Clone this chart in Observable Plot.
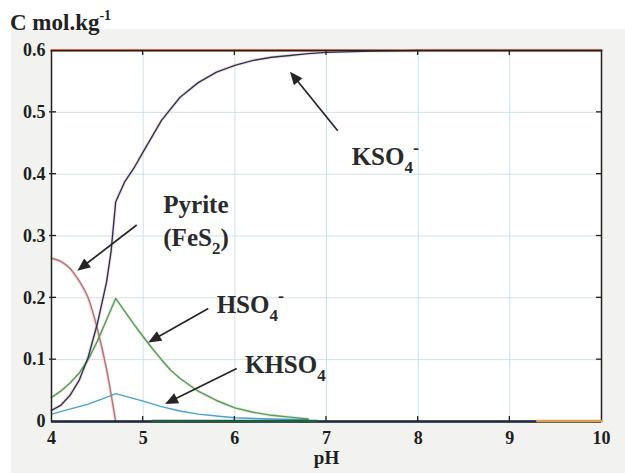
<!DOCTYPE html>
<html><head><meta charset="utf-8">
<script src="https://cdn.jsdelivr.net/npm/d3@7"></script>
<script src="https://cdn.jsdelivr.net/npm/@observablehq/plot@0.6"></script>
<style>
body{margin:0;background:#fff;font-family:"Liberation Serif","Times New Roman",serif;}
#wrap{position:relative;width:625px;height:473px;overflow:hidden;}
#title{position:absolute;left:10px;top:11px;z-index:2;font-weight:bold;font-size:23px;line-height:23px;color:#222;white-space:nowrap;}
#title span{font-size:14px;position:relative;top:-10px;}
#chart{position:absolute;left:0;top:29px;width:625px;height:444px;z-index:1;background:linear-gradient(to right,#fff 11px,#f2f2f0 11px);}
</style></head><body>
<div id="wrap"><div id="title">C mol.kg<span>-1</span></div><div id="chart"></div></div>
<script>
// ---- data ----
const xTicks = [4, 5, 6, 7, 8, 9, 10];
const yTicks = [0, 0.1, 0.2, 0.3, 0.4, 0.5, 0.6];

const pHPyrite = [4.0, 4.1, 4.2, 4.3, 4.4, 4.5, 4.6, 4.7];
const cPyrite  = [0.264, 0.259, 0.248, 0.228, 0.2, 0.15, 0.085, 0.0];

const pHKSO4 = [4.0, 4.1, 4.2, 4.3, 4.4, 4.5, 4.6, 4.65, 4.7, 4.8, 4.9, 5.0, 5.2, 5.4, 5.6, 5.8, 6.0, 6.2, 6.4, 6.6, 6.8, 7.0, 7.5, 8.0, 9.0, 10.0];
const cKSO4  = [0.018, 0.026, 0.042, 0.066, 0.104, 0.158, 0.225, 0.275, 0.355, 0.388, 0.41, 0.436, 0.487, 0.524, 0.548, 0.565, 0.576, 0.584, 0.589, 0.592, 0.595, 0.597, 0.599, 0.6, 0.6, 0.6];

const pHHSO4 = [4.0, 4.1, 4.2, 4.3, 4.4, 4.5, 4.6, 4.7, 4.8, 4.9, 5.0, 5.1, 5.2, 5.3, 5.4, 5.6, 5.8, 6.0, 6.2, 6.4, 6.6, 6.8];
const cHSO4  = [0.039, 0.049, 0.062, 0.078, 0.1, 0.13, 0.164, 0.199, 0.178, 0.157, 0.137, 0.118, 0.1, 0.083, 0.07, 0.049, 0.034, 0.022, 0.015, 0.01, 0.007, 0.004];

const pHKHSO4 = [4.0, 4.2, 4.4, 4.6, 4.7, 4.8, 5.0, 5.2, 5.4, 5.6, 5.8, 6.0, 6.4, 6.8];
const cKHSO4  = [0.012, 0.02, 0.028, 0.039, 0.045, 0.041, 0.033, 0.024, 0.017, 0.012, 0.009, 0.006, 0.004, 0.003];

const pHGreenZero = [5.1, 6.9];
const cGreenZero  = [0.001, 0.001];
const pHOrangeZero = [9.3, 10.0];
const cOrangeZero  = [0.001, 0.001];
const pHTotal = [4.0, 10.0];
const cTotal  = [0.6, 0.6];

// annotations: arrows (tail -> head) and labels, in data units
const arrowX1 = [7.128, 4.935, 5.716, 6.026];
const arrowY1 = [0.4695, 0.317, 0.182, 0.085];
const arrowX2 = [6.607, 4.287, 5.061, 5.244];
const arrowY2 = [0.565, 0.243, 0.127, 0.0275];

const labelMain = ["KSO", "Pyrite", "(FeS", "HSO", "KHSO"];
const labelSub  = ["4", "", "2", "4", "4"];
const labelTail = ["-", "", ")", "-", ""];
const labelX = [7.28, 5.225, 5.225, 5.807, 6.116];
const labelY = [0.414, 0.336, 0.283, 0.174, 0.077];

// ---- build tables ----
const toRows = (xs, ys) => xs.map((x, i) => ({pH: x, C: ys[i]}));
const rowsPyrite = toRows(pHPyrite, cPyrite);
const rowsKSO4 = toRows(pHKSO4, cKSO4);
const rowsHSO4 = toRows(pHHSO4, cHSO4);
const rowsKHSO4 = toRows(pHKHSO4, cKHSO4);
const rowsGreen = toRows(pHGreenZero, cGreenZero);
const rowsOrange = toRows(pHOrangeZero, cOrangeZero);
const rowsTotal = toRows(pHTotal, cTotal);

const W = 625, H = 444, mT = 21, mB = 52, mL = 51, mR = 24;
const innerX = xTicks.slice(1, -1), innerY = yTicks.slice(1, -1);

const plot = Plot.plot({
  width: W, height: H,
  marginTop: mT, marginBottom: mB, marginLeft: mL, marginRight: mR,
  style: {background: "transparent", fontFamily: "'Liberation Serif','Times New Roman',serif", fontSize: "18px", fontWeight: "bold", color: "#1e1e1e", overflow: "visible"},
  x: {domain: [4, 10]},
  y: {domain: [0, 0.6]},
  marks: [
    Plot.frame({fill: "white", stroke: null}),
    Plot.gridX(innerX, {stroke: "#cfe1ea", strokeOpacity: 1, strokeWidth: 1}),
    Plot.gridY(innerY, {stroke: "#cfe1ea", strokeOpacity: 1, strokeWidth: 1}),
    Plot.line(rowsTotal, {x: "pH", y: "C", stroke: "#f08a6a", strokeWidth: 3}),
    // halos
    Plot.line(rowsKSO4, {x: "pH", y: "C", stroke: "#f5c2b2", strokeWidth: 3.4, strokeOpacity: 0.5}),
    Plot.line(rowsHSO4, {x: "pH", y: "C", stroke: "#dfe6a8", strokeWidth: 3.2, strokeOpacity: 0.6}),
    Plot.line(rowsPyrite, {x: "pH", y: "C", stroke: "#f2c8c8", strokeWidth: 3.2, strokeOpacity: 0.6}),
    // curves
    Plot.line(rowsPyrite, {x: "pH", y: "C", stroke: "#b86f7c", strokeWidth: 1.4, curve: "monotone-x"}),
    Plot.line(rowsKHSO4, {x: "pH", y: "C", stroke: "#46a2cf", strokeWidth: 1.4}),
    Plot.line(rowsHSO4, {x: "pH", y: "C", stroke: "#4f9a6e", strokeWidth: 1.4}),
    Plot.line(rowsKSO4, {x: "pH", y: "C", stroke: "#24365e", strokeWidth: 1.4}),
    Plot.frame({stroke: "#222", strokeWidth: 1.5}),
    Plot.ruleY([0], {stroke: "#1f2a3a", strokeWidth: 2.5}),
    Plot.line(rowsGreen, {x: "pH", y: "C", stroke: "#1d5e3c", strokeWidth: 2.5}),
    Plot.line(rowsOrange, {x: "pH", y: "C", stroke: "#d8a24a", strokeWidth: 2.5}),
    Plot.axisX(xTicks, {tickSize: 0, tickPadding: 10, label: null, tickFormat: d => String(d)}),
    Plot.axisY(yTicks, {tickSize: 0, tickPadding: 6, label: null, tickFormat: d => String(d)}),
    Plot.text(["pH"], {frameAnchor: "bottom", dy: 42, fontSize: 19, fontWeight: "bold", fill: "#1e1e1e"})
  ]
});

document.getElementById("chart").appendChild(plot);

// inward ticks and annotations, positioned with the plot's own scales
const sx = plot.scale("x"), sy = plot.scale("y");
const svg = d3.select(plot);
const g = svg.append("g");
const tk = 5;
const xMin = sx.apply(4), xMax = sx.apply(10), yBot = sy.apply(0), yTop = sy.apply(0.6);
innerX.forEach(v => {
  const x = sx.apply(v);
  g.append("line").attr("x1", x).attr("x2", x).attr("y1", yBot).attr("y2", yBot - tk).attr("stroke", "#222").attr("stroke-width", 1.3);
  g.append("line").attr("x1", x).attr("x2", x).attr("y1", yTop).attr("y2", yTop + tk).attr("stroke", "#222").attr("stroke-width", 1.3);
});
innerY.forEach(v => {
  const y = sy.apply(v);
  g.append("line").attr("x1", xMin - 2).attr("x2", xMin + tk).attr("y1", y).attr("y2", y).attr("stroke", "#222").attr("stroke-width", 1.3);
  g.append("line").attr("x1", xMax).attr("x2", xMax - tk).attr("y1", y).attr("y2", y).attr("stroke", "#222").attr("stroke-width", 1.3);
});
arrowX1.forEach((_, i) => {
  const x1 = sx.apply(arrowX1[i]), y1 = sy.apply(arrowY1[i]);
  const x2 = sx.apply(arrowX2[i]), y2 = sy.apply(arrowY2[i]);
  const dx = x2 - x1, dy = y2 - y1, len = Math.hypot(dx, dy);
  const ux = dx / len, uy = dy / len;
  const L = 13, w = 5.5;
  const bx = x2 - ux * L, by = y2 - uy * L;
  g.append("line").attr("x1", x1).attr("y1", y1).attr("x2", bx + ux * 2).attr("y2", by + uy * 2)
    .attr("stroke", "#262626").attr("stroke-width", 1.7);
  g.append("polygon")
    .attr("points", [[x2, y2], [bx - uy * w, by + ux * w], [bx + uy * w, by - ux * w]].map(p => p.join(",")).join(" "))
    .attr("fill", "#262626");
});
labelMain.forEach((t, i) => {
  const txt = g.append("text")
    .attr("x", sx.apply(labelX[i])).attr("y", sy.apply(labelY[i]))
    .attr("text-anchor", "start")
    .attr("font-family", "'Liberation Serif','Times New Roman',serif")
    .attr("font-weight", "bold").attr("font-size", 25).attr("fill", "#2a2a2a");
  txt.append("tspan").text(t);
  if (labelSub[i]) txt.append("tspan").attr("font-size", 17).attr("dy", 8).text(labelSub[i]);
  if (labelTail[i] === "-") txt.append("tspan").attr("font-size", 18).attr("dy", -19).text("-");
  else if (labelTail[i]) txt.append("tspan").attr("dy", -8).text(labelTail[i]);
});
</script>
</body></html>
